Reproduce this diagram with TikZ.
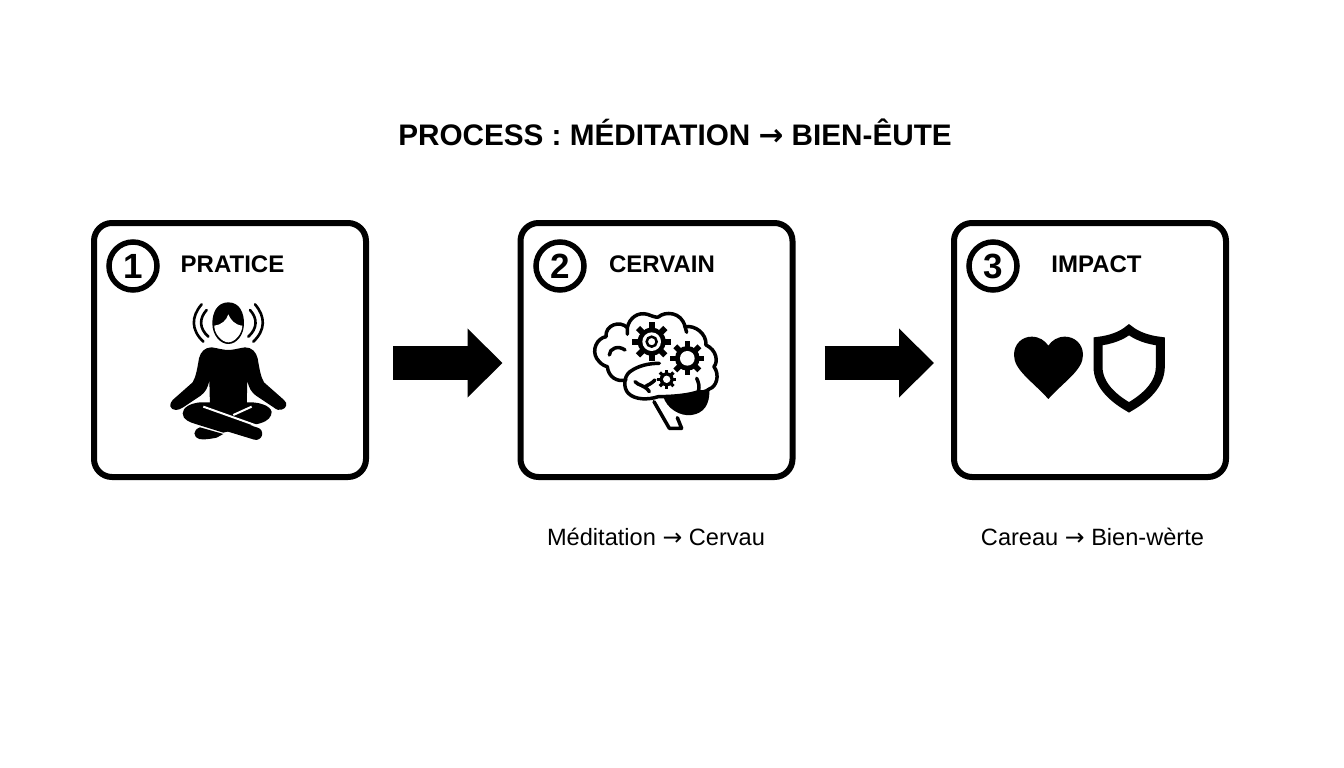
\documentclass[tikz,border=0pt]{standalone}
\usepackage{fontspec}
\setmainfont{Liberation Sans}
\newfontfamily\arrowfont{DejaVu Sans}
\usetikzlibrary{arrows.meta,calc}
\newcommand{\boxw}{272pt}
\newcommand{\boxh}{254pt}
\newcommand{\toarrow}{{\arrowfont →}}
% one gear: centre x, centre y, body radius, hole radius, tooth width
\newcommand{\gearicon}[5]{
    \fill[black] (#1,#2) circle[radius=#3];
    \foreach \ang in {0,45,...,315}
        \draw[black, line width=#5] ($(#1,#2)+(\ang:#3*0.8)$) -- ($(#1,#2)+(\ang:#3*1.38)$);
    \fill[white] (#1,#2) circle[radius=#4];
}
\tikzset{
    stepbox/.style={draw=black, line width=6pt, rounded corners=18pt, minimum width=\boxw, minimum height=\boxh, inner sep=0pt},
    stepnum/.style={draw=black, circle, line width=5.5pt, minimum size=48pt, inner sep=0pt, font=\bfseries\fontsize{35}{40}\selectfont},
    stephead/.style={font=\bfseries\fontsize{24}{28}\selectfont},
    stepnote/.style={font=\fontsize{23.6}{27}\selectfont},
    blockarrow/.style={line width=34pt, -{Triangle[length=35pt,width=67pt]}},
    iconline/.style={black, line width=3.5pt, line join=round, line cap=round},
    waveline/.style={black, line width=2.6pt, line cap=round},
}
\begin{document}
\begin{tikzpicture}[x=1pt, y=-1pt]
    \useasboundingbox (0,0) rectangle (1344,768);
    \node[font=\bfseries\fontsize{29.7}{33}\selectfont] (title) at (675,132) {PROCESS : MÉDITATION \toarrow{} BIEN-ÊUTE};

    \node[stepbox] (box1) at (230,350) {};
    \node[stepbox] (box2) at (656.5,350) {};
    \node[stepbox] (box3) at (1090,350) {};
    \node[stepnum] (num1) at (133,266) {1};
    \node[stepnum] (num2) at (560,266) {2};
    \node[stepnum] (num3) at (993,266) {3};
    \node[stephead] (head1) at (232.5,264) {PRATICE};
    \node[stephead] (head2) at (662,264) {CERVAIN};
    \node[stephead] (head3) at (1096.5,264) {IMPACT};
    \node[stepnote] (note2) at (656,537) {Méditation \toarrow{} Cervau};
    \node[stepnote] (note3) at (1092.5,537) {Careau \toarrow{} Bien-wèrte};

    \draw[blockarrow, shorten <=24pt, shorten >=15pt] ([yshift=-13pt]box1.east) -- ([yshift=-13pt]box2.west);
    \draw[blockarrow, shorten <=29pt, shorten >=17pt] ([yshift=-13pt]box2.east) -- ([yshift=-13pt]box3.west);

    % person
    \begin{scope}[shift={(160,295)}, x=0.3333pt, y=-0.3333pt]
        \fill[black] (205,22) .. controls (170,22) and (157,55) .. (157,85) .. controls (157,120) and (180,147) .. (205,147) .. controls (230,147) and (252,120) .. (252,85) .. controls (252,55) and (240,22) .. (205,22) -- cycle;
        \fill[white] (163,92) .. controls (185,90) and (200,75) .. (205,58) .. controls (212,75) and (225,90) .. (247,92) .. controls (247,115) and (225,142) .. (205,142) .. controls (185,142) and (162,115) .. (163,92) -- cycle;
        \foreach \sgn in {-1,1} {
            \draw[waveline] ({205+\sgn*80},28) .. controls ({205+\sgn*112},65) and ({205+\sgn*112},105) .. ({205+\sgn*75},140);
            \draw[waveline] ({205+\sgn*65},45) .. controls ({205+\sgn*88},70) and ({205+\sgn*88},100) .. ({205+\sgn*60},125);
        }
        % torso and arms
        \fill[black] (205,165) .. controls (190,165) and (175,160) .. (155,157) .. controls (135,157) and (122,170) .. (117,190) .. controls (112,220) and (108,245) .. (98,262) -- (38,315) .. controls (25,328) and (30,345) .. (48,345) .. controls (55,345) and (60,342) .. (68,338) -- (122,302) .. controls (135,292) and (144,280) .. (148,255) -- (150,335) -- (260,335) -- (262,255) .. controls (266,280) and (275,292) .. (288,302) -- (342,338) .. controls (350,345) and (358,346) .. (365,344) .. controls (380,340) and (384,325) .. (372,315) -- (312,262) .. controls (302,245) and (298,220) .. (293,190) .. controls (288,170) and (275,157) .. (255,157) .. controls (235,160) and (220,165) .. (205,165) -- cycle;
        % legs
        \fill[black] (120,322) .. controls (90,325) and (68,338) .. (68,355) .. controls (68,375) and (90,382) .. (110,388) -- (190,413) -- (260,395) -- (300,385) .. controls (325,378) and (335,365) .. (335,350) .. controls (330,332) and (300,322) .. (270,322) -- cycle;
        \fill[black] (120,397) -- (190,417) -- (170,428) .. controls (150,432) and (130,435) .. (118,432) .. controls (98,425) and (98,405) .. (120,397) -- cycle;
        \draw[white, line width=2pt] (130,335) -- (290,392);
        \draw[white, line width=2pt] (275,335) -- (220,360);
        \draw[black, line width=12.5pt, line cap=round] (190,386) -- (288,416);
    \end{scope}

    % brain
    \begin{scope}[shift={(570,295)}, x=0.3333pt, y=-0.3333pt]
        \fill[black] (280,305) .. controls (290,340) and (330,365) .. (365,360) .. controls (400,355) and (420,330) .. (418,285) -- (385,290) .. controls (350,300) and (310,305) .. (280,305) -- cycle;
        \draw[iconline] (172,118) -- (172,98) .. controls (178,68) and (205,50) .. (232,58) .. controls (245,62) and (255,68) .. (265,66) .. controls (285,48) and (335,50) .. (345,95) .. controls (375,90) and (410,115) .. (408,150) .. controls (440,165) and (445,200) .. (432,215) .. controls (450,240) and (440,275) .. (418,282) .. controls (405,292) and (395,292) .. (385,290);
        \draw[iconline] (172,98) .. controls (150,75) and (105,90) .. (108,125) .. controls (80,130) and (65,165) .. (80,190) .. controls (90,205) and (100,212) .. (112,215) .. controls (115,245) and (140,262) .. (168,255);
        \draw[iconline] (268,205) .. controls (235,205) and (205,212) .. (180,230) .. controls (160,245) and (160,280) .. (175,295) .. controls (195,315) and (235,315) .. (265,305) .. controls (310,305) and (360,300) .. (385,290) .. controls (390,275) and (385,260) .. (380,250);
        \draw[iconline] (118,180) .. controls (118,160) and (145,150) .. (165,165);
        \draw[iconline] (195,260) .. controls (205,272) and (225,270) .. (238,290);
        \draw[iconline] (225,275) .. controls (235,270) and (245,265) .. (255,255);
        \draw[iconline] (252,320) -- (298,400) -- (335,400) -- (322,368);
        \draw[iconline] (345,95) -- (350,112);
        \gearicon{245}{140}{42}{28}{6pt}
        \draw[black, line width=2.5pt] (245,140) circle[radius=15];
        \gearicon{352}{190}{37}{22}{5.5pt}
        \gearicon{290}{253}{21}{11}{3.2pt}
    \end{scope}

    % heart and shield
    \begin{scope}[shift={(990,310)}, x=0.3333pt, y=-0.3333pt]
        \fill[black] (175,267) .. controls (125,212) and (72,180) .. (72,135) .. controls (72,100) and (98,80) .. (125,80) .. controls (148,80) and (165,92) .. (175,107) .. controls (185,92) and (202,80) .. (225,80) .. controls (252,80) and (279,100) .. (279,135) .. controls (279,180) and (225,212) .. (175,267) -- cycle;
        \draw[black, line width=9pt, miter limit=10] (417,59) .. controls (395,78) and (360,90) .. (324,94) -- (324,170) .. controls (324,225) and (370,265) .. (417,292) .. controls (464,265) and (511,225) .. (511,170) -- (511,94) .. controls (475,90) and (440,78) .. (417,59) -- cycle;
    \end{scope}
\end{tikzpicture}
\end{document}
